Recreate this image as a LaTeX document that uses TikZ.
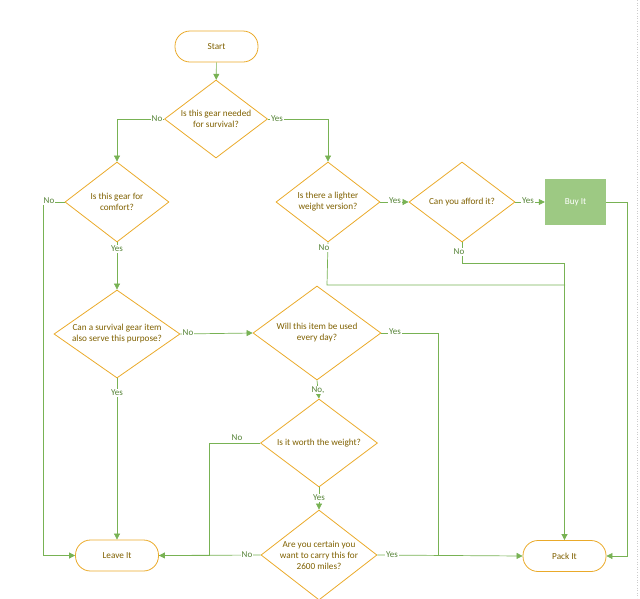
\documentclass[tikz,border=0pt]{standalone}
\usepackage{fontspec}
\setmainfont{Carlito}
\usetikzlibrary{shapes.geometric,arrows.meta}
\definecolor{ln}{HTML}{78B254}
\definecolor{lbl}{HTML}{548235}
\definecolor{brd}{HTML}{EAAA2A}
\definecolor{txt}{HTML}{7F6000}
\definecolor{buy}{HTML}{9DC983}
\tikzset{
  dia/.style={diamond, draw=brd, line width=0.8pt, inner sep=0pt},
  dtext/.style={text=txt, align=center, font=\fontsize{9.2}{11}\selectfont, inner sep=0pt},
  term/.style={draw=brd, line width=0.8pt, rounded corners=15pt, minimum width=83pt, minimum height=31pt, text=txt, font=\fontsize{9.2}{11}\selectfont},
  conn/.style={draw=ln, line width=0.7pt},
  arr/.style={conn, -{Triangle[length=6pt,width=6pt]}},
  lab/.style={text=lbl, fill=white, inner sep=1pt, font=\fontsize{9}{10}\selectfont}
}
\begin{document}
\begin{tikzpicture}[x=1pt,y=-1pt]
\useasboundingbox (0,0) rectangle (640,598);
\draw[gray!40, dotted, line width=0.6pt] (637,0) -- (637,598);
% nodes
\node[term] (start) at (216.5,46.5) {Start};
\node[dia, minimum width=103pt, minimum height=78pt] (d1) at (216,119) {};
\node[dtext] (t1) at (d1) {Is this gear needed\\for survival?};
\node[dia, minimum width=104pt, minimum height=80pt] (d2) at (117,202) {};
\node[dtext] (t2) at (d2) {Is this gear for\\comfort?};
\node[dia, minimum width=104pt, minimum height=80pt] (d3) at (328,202) {};
\node[dtext] (t3) at (d3) {Is there a lighter\\weight version?};
\node[dia, minimum width=106pt, minimum height=80pt] (d7) at (462,202) {};
\node[dtext] (t7) at (d7) {Can you afford it?};
\node[fill=buy, minimum width=61pt, minimum height=46pt, text=white, font=\fontsize{9.2}{11}\selectfont] (buy) at (575.5,202) {Buy It};
\node[dia, minimum width=126pt, minimum height=88pt] (d4) at (117,334) {};
\node[dtext] (t4) at (d4) {Can a survival gear item\\also serve this purpose?};
\node[dia, minimum width=128pt, minimum height=94pt] (d5) at (317,333) {};
\node[dtext] (t5) at (d5) {Will this item be used\\every day?};
\node[dia, minimum width=117pt, minimum height=88pt] (d6) at (319,443) {};
\node[dtext] (t6) at (d6) {Is it worth the weight?};
\node[dia, minimum width=116pt, minimum height=90pt] (d8) at (319,555) {};
\node[dtext] (t8) at (d8) {Are you certain you\\want to carry this for\\2600 miles?};
\node[term] (leave) at (117,555.5) {Leave It};
\node[term] (pack) at (564.5,556) {Pack It};
\coordinate (j1) at (438,556);
\coordinate (j2) at (565,285);
\coordinate (c1) at (43,202);
\coordinate (c2) at (209,443);
\coordinate (c3) at (327,285);
\coordinate (c4) at (462,263);
\coordinate (c5) at (627,202);
% connectors
\draw[arr] (start) -- (d1);
\draw[arr] (d1.west) -| (d2.north);
\draw[arr] (d1.east) -| (d3.north);
\draw[arr] (d2.west) -- (c1) |- (leave.west);
\draw[arr] (d2.south) -- (d4.north);
\draw[arr] (d4.south) -- (leave.north);
\draw[arr] (d4.east) -- (d5.west);
\draw[conn] (d5.east) -| (j1);
\draw[arr] (d5.south) -- (d6.north);
\draw[conn] (d6.west) -- (c2) |- (leave.east);
\draw[arr] (d6.south) -- (d8.north);
\draw[arr] (d8.west) -- (leave.east);
\draw[arr] (d8.east) -- (pack.west);
\draw[arr] (d3.east) -- (d7.west);
\draw[conn] (d3.south) -- (c3) -- (j2);
\draw[arr] (d7.south) -- (c4) -| (pack.north);
\draw[arr] (d7.east) -- (buy.west);
\draw[arr] (buy.east) -- (c5) |- (pack.east);
% labels
\node[lab] (l1) at (157,119) {No};
\node[lab] (l2) at (277,119) {Yes};
\node[lab] (l3) at (49,201) {No};
\node[lab] (l4) at (117,249) {Yes};
\node[lab] (l5) at (117,393) {Yes};
\node[lab] (l6) at (188,333) {No};
\node[lab] (l7) at (395,332) {Yes};
\node[lab] (l8) at (318,390) {No,};
\node[lab] (l9) at (237,438) {No};
\node[lab] (l10) at (319,498) {Yes};
\node[lab] (l11) at (247,555) {No};
\node[lab] (l12) at (392,555) {Yes};
\node[lab] (l13) at (395,201) {Yes};
\node[lab] (l14) at (324,248) {No};
\node[lab] (l15) at (459,252) {No};
\node[lab] (l16) at (528,201) {Yes};
\end{tikzpicture}
\end{document}
